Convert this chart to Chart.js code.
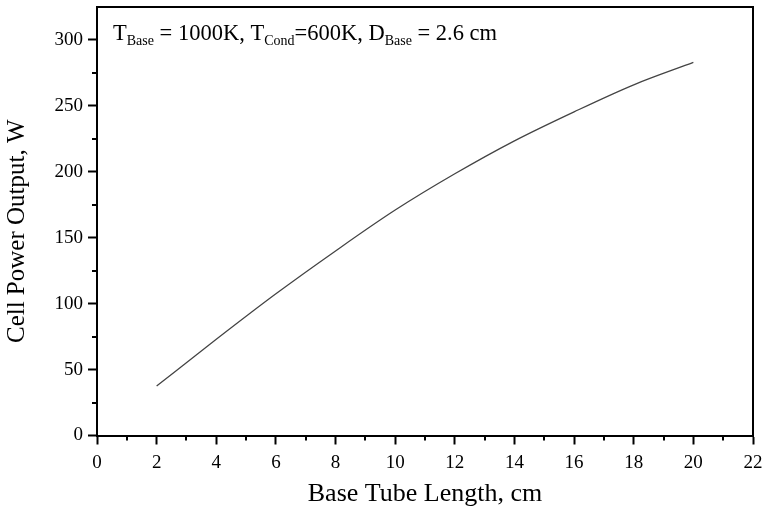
<!DOCTYPE html>
<html>
<head>
<meta charset="utf-8">
<script src="https://cdn.jsdelivr.net/npm/chart.js@4.4.1/dist/chart.umd.min.js"></script>
<style>
  html, body { margin: 0; padding: 0; background: #fff; }
  #wrap { width: 775px; height: 510px; }
</style>
</head>
<body>
<div id="wrap"><canvas id="c" width="775" height="510"></canvas></div>
<script>
// Data
const tubeLength = [2, 4, 6, 8, 10, 12, 14, 16, 18, 20];           // cm
const cellPower  = [37.5, 73, 107.5, 140, 171, 198.5, 223.5, 245.5, 266, 283]; // W
const xTickLabels = ['0','2','4','6','8','10','12','14','16','18','20','22'];
const yTickLabels = ['0','50','100','150','200','250','300'];
const xMinorTicks = [1,3,5,7,9,11,13,15,17,19,21];
const yMinorTicks = [25,75,125,175,225,275];
const yTitle = 'Cell Power Output, W';
const xTitle = 'Base Tube Length, cm';
const annotationParts = [
  ['T', false], ['Base', true], [' = 1000K, T', false], ['Cond', true],
  ['=600K, D', false], ['Base', true], [' = 2.6 cm', false]
];

const FONT = '"Liberation Serif", "Times New Roman", serif';

const framePlugin = {
  id: 'frame',
  afterDraw(chart) {
    const ctx = chart.ctx;
    const a = chart.chartArea;
    const xs = chart.scales.x, ys = chart.scales.y;
    ctx.save();
    ctx.strokeStyle = '#000';
    ctx.lineWidth = 2;
    ctx.beginPath();
    ctx.moveTo(a.left, a.top);
    ctx.lineTo(a.right, a.top);
    ctx.lineTo(a.right, a.bottom);
    ctx.stroke();
    // minor ticks
    ctx.beginPath();
    xMinorTicks.forEach(v => {
      const px = Math.round(xs.getPixelForValue(v));
      ctx.moveTo(px, a.bottom);
      ctx.lineTo(px, a.bottom + 5);
    });
    yMinorTicks.forEach(v => {
      const py = Math.round(ys.getPixelForValue(v));
      ctx.moveTo(a.left, py);
      ctx.lineTo(a.left - 5, py);
    });
    ctx.stroke();
    // y-axis title
    ctx.fillStyle = '#000';
    ctx.save();
    ctx.translate(17, (a.top + a.bottom) / 2 + 10);
    ctx.rotate(-Math.PI / 2);
    ctx.font = '25px ' + FONT;
    ctx.textAlign = 'center';
    ctx.textBaseline = 'middle';
    ctx.fillText(yTitle, 0, 0);
    ctx.restore();
    // annotation
    let x = a.left + 16;
    const base = a.top + 33;
    ctx.textAlign = 'left';
    ctx.textBaseline = 'alphabetic';
    annotationParts.forEach(([t, sub]) => {
      ctx.font = (sub ? '14px ' : '22.5px ') + FONT;
      ctx.fillText(t, x, sub ? base + 5 : base);
      x += ctx.measureText(t).width;
    });
    ctx.restore();
  }
};

new Chart(document.getElementById('c'), {
  type: 'line',
  data: {
    labels: tubeLength,
    datasets: [{
      data: tubeLength.map((x, i) => ({ x, y: cellPower[i] })),
      borderColor: '#444',
      borderWidth: 1.3,
      pointRadius: 0,
      fill: false,
      cubicInterpolationMode: 'monotone'
    }]
  },
  options: {
    responsive: false,
    animation: false,
    devicePixelRatio: 1,
    layout: { padding: { left: 0, right: 22, top: 7, bottom: 0 } },
    plugins: { legend: { display: false }, tooltip: { enabled: false } },
    scales: {
      x: {
        type: 'linear',
        min: 0, max: 22,
        afterFit(scale) { scale.height = 74.5; scale.paddingLeft = 0; scale.paddingRight = 0; },
        ticks: {
          stepSize: 2,
          color: '#000',
          font: { family: FONT, size: 19 },
          padding: 7,
          maxRotation: 0,
          callback: (v) => xTickLabels.includes(String(v)) ? String(v) : ''
        },
        grid: { drawOnChartArea: false, drawTicks: true, tickLength: 9, tickWidth: 2, tickColor: '#000' },
        border: { display: true, color: '#000', width: 2 },
        title: {
          display: true, text: xTitle, color: '#000',
          font: { family: FONT, size: 26 }, padding: { top: 4, bottom: 0 }
        }
      },
      y: {
        type: 'linear',
        min: 0, max: 325,
        afterFit(scale) { scale.width = 97; scale.paddingTop = 0; scale.paddingBottom = 0; },
        ticks: {
          stepSize: 50,
          includeBounds: false,
          color: '#000',
          font: { family: FONT, size: 19 },
          padding: 5,
          callback: (v) => yTickLabels.includes(String(v)) ? String(v) : ''
        },
        grid: { drawOnChartArea: false, drawTicks: true, tickLength: 9, tickWidth: 2, tickColor: '#000' },
        border: { display: true, color: '#000', width: 2 },
        title: { display: false }
      }
    }
  },
  plugins: [framePlugin]
});
</script>
</body>
</html>
